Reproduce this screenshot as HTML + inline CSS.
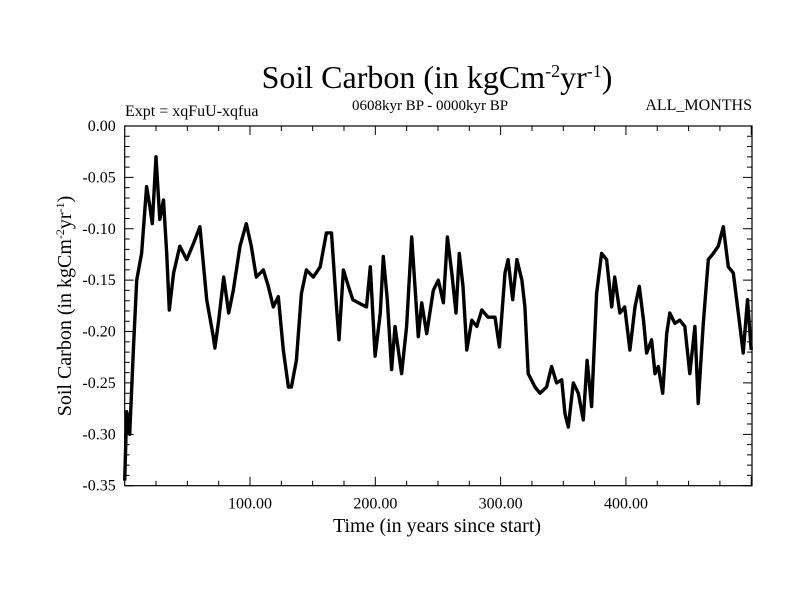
<!DOCTYPE html>
<html><head><meta charset="utf-8"><style>
html,body{margin:0;padding:0;background:#fff}
svg{display:block;font-family:"Liberation Serif",serif}
</style></head><body>
<svg id="chart" width="800" height="600" viewBox="0 0 800 600">
<text x="437" y="88" text-anchor="middle" font-size="32">Soil Carbon (in kgCm<tspan dy="-11" font-size="18">-2</tspan><tspan dy="11">yr</tspan><tspan dy="-11" font-size="18">-1</tspan><tspan dy="11">)</tspan></text>
<text x="125" y="116" font-size="16">Expt = xqFuU-xqfua</text>
<text x="430" y="110" text-anchor="middle" font-size="15">0608kyr BP - 0000kyr BP</text>
<text x="752" y="110" text-anchor="end" font-size="16">ALL_MONTHS</text>
<g id="axes"></g>
<text x="437" y="532" text-anchor="middle" font-size="20">Time (in years since start)</text>
<text transform="translate(71,306) rotate(-90)" text-anchor="middle" font-size="20">Soil Carbon (in kgCm<tspan dy="-7" font-size="12">-2</tspan><tspan dy="7">yr</tspan><tspan dy="-7" font-size="12">-1</tspan><tspan dy="7">)</tspan></text>
</svg>
<script>
const years = [0,1.6,4,7,9.6,13.5,17.5,20,22,25,28,31,33.5,35.6,39,44,49.5,55,60,65.4,70.7,72,75,79,83,86.7,92,97,101,105,110.6,114.6,118.6,122.6,126.6,130.6,133,137,141,145,150.5,156,161,165,169,171,174.5,178.5,182,188,193,196,199.8,204,206.4,209.6,213,215.7,221,225,229,234.3,237,241,246.3,250.3,254.3,257.5,261,264.4,267,270,273,277,281,285,290,295.5,299,303.5,306,309.6,313,317,319.4,322,327.4,331.4,336.7,340.7,344.7,348.7,351.4,354,358,362,366,369,372.6,376.6,380.6,384.6,388.6,391,395.2,399,403.2,407.2,410.7,414,416.5,420.5,423.2,425.8,429.3,432.5,435,439,443,447,451,455,457.7,461.7,465.7,469.7,473.7,477.7,481.7,485.7,489.7,493.6,497,500];
const values = [-0.345,-0.278,-0.30,-0.215,-0.15,-0.124,-0.059,-0.078,-0.095,-0.030,-0.091,-0.072,-0.124,-0.179,-0.143,-0.117,-0.130,-0.114,-0.098,-0.169,-0.205,-0.216,-0.189,-0.147,-0.182,-0.160,-0.117,-0.095,-0.117,-0.147,-0.140,-0.156,-0.176,-0.166,-0.218,-0.254,-0.254,-0.228,-0.163,-0.140,-0.147,-0.137,-0.104,-0.104,-0.176,-0.208,-0.140,-0.156,-0.169,-0.173,-0.176,-0.137,-0.224,-0.182,-0.127,-0.169,-0.237,-0.195,-0.241,-0.195,-0.108,-0.205,-0.172,-0.202,-0.160,-0.150,-0.172,-0.108,-0.143,-0.182,-0.124,-0.156,-0.218,-0.189,-0.195,-0.179,-0.186,-0.186,-0.215,-0.143,-0.130,-0.169,-0.130,-0.150,-0.176,-0.241,-0.254,-0.260,-0.254,-0.234,-0.250,-0.247,-0.280,-0.293,-0.250,-0.260,-0.286,-0.228,-0.273,-0.163,-0.124,-0.130,-0.176,-0.147,-0.182,-0.176,-0.218,-0.176,-0.156,-0.189,-0.221,-0.208,-0.241,-0.234,-0.260,-0.202,-0.182,-0.192,-0.189,-0.195,-0.241,-0.195,-0.270,-0.192,-0.130,-0.124,-0.117,-0.098,-0.137,-0.143,-0.182,-0.221,-0.169,-0.218];
const xTicks = [100,200,300,400];
const xTickLabels = ["100.00","200.00","300.00","400.00"];
const yTicks = [0,-0.05,-0.10,-0.15,-0.20,-0.25,-0.30,-0.35];
const yTickLabels = ["0.00","-0.05","-0.10","-0.15","-0.20","-0.25","-0.30","-0.35"];

const L=124.7,R=752,T=126,B=485.7,X0=0,X1=500.6,Y0=0,Y1=-0.35;
const sx=v=>L+(v-X0)/(X1-X0)*(R-L);
const sy=v=>T+(v-Y0)/(Y1-Y0)*(B-T);
const NS="http://www.w3.org/2000/svg";
const g=document.getElementById('axes');
function mk(tag,attrs){const e=document.createElementNS(NS,tag);for(const k in attrs)e.setAttribute(k,attrs[k]);g.appendChild(e);return e;}

const frame=mk('rect',{x:L,y:T,width:R-L,height:B-T,fill:'none',stroke:'#000','stroke-width':1.2});



let d='';
for(let v=25;v<X1;v+=25){const x=sx(v);const len=(v%100===0)?9:5;d+=`M${x},${B}v${-len}M${x},${T}v${len}`;}
for(let i=0;i<=35;i++){const v=-i/100;const y=sy(v);const len=(i%5===0)?9:5;d+=`M${L},${y}h${len}M${R},${y}h${-len}`;}
const ticks=mk('path',{d:d,stroke:'#000','stroke-width':1,fill:'none'});



xTicks.forEach((v,i)=>{const t=mk('text',{x:sx(v),y:B+23,'text-anchor':'middle','font-size':16});t.textContent=xTickLabels[i];

});
yTicks.forEach((v,i)=>{const t=mk('text',{x:L-9,y:sy(v)+5,'text-anchor':'end','font-size':16});t.textContent=yTickLabels[i];

});

const pts=years.map((y,i)=>sx(y).toFixed(1)+','+sy(values[i]).toFixed(1)).join(' ');
const line=mk('polyline',{points:pts,fill:'none',stroke:'#000','stroke-width':3.4,'stroke-linejoin':'round'});


</script>
</body></html>
